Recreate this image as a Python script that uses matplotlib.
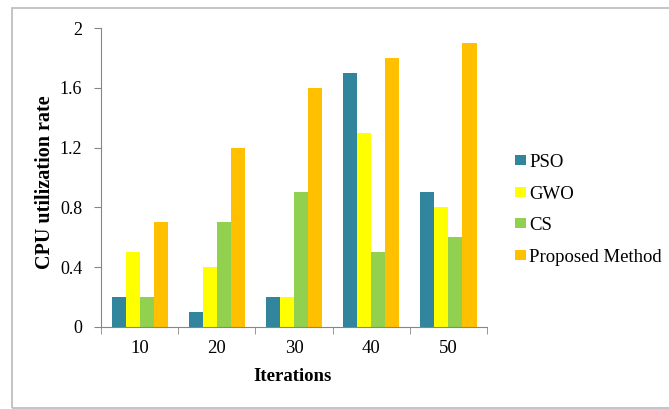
# -*- coding: utf-8 -*-

# %% Imports
import numpy as np
import matplotlib.pyplot as plt
from matplotlib.patches import Rectangle

# %% Data
iterations = ["10", "20", "30", "40", "50"]
pso = [0.2, 0.1, 0.2, 1.7, 0.9]
gwo = [0.5, 0.4, 0.2, 1.3, 0.8]
cs = [0.2, 0.7, 0.9, 0.5, 0.6]
proposed = [0.7, 1.2, 1.6, 1.8, 1.9]
series_names = ["PSO", "GWO", "CS", "Proposed Method"]
y_ticks = [0, 0.4, 0.8, 1.2, 1.6, 2]
y_tick_labels = ["0", "0.4", "0.8", "1.2", "1.6", "2"]

colors = ["#31859C", "#FFFF00", "#92D050", "#FFC000"]
axis_grey = "#868686"

# %% Figure
plt.rcParams["font.family"] = ["Liberation Serif", "DejaVu Serif"]
fig = plt.figure(figsize=(6.69, 4.09), dpi=100)
ax = fig.add_axes([0.151, 0.2005, 0.577, 0.731])

x = np.arange(len(iterations))
width = 0.182
for i, (name, vals) in enumerate(zip(series_names, [pso, gwo, cs, proposed])):
    ax.bar(x + (i - 1.5) * width, vals, width, color=colors[i], label=name)

ax.set_xlim(-0.5, len(iterations) - 0.5)
ax.set_ylim(0, 2)
ax.set_yticks(y_ticks)
ax.set_yticklabels(y_tick_labels)
ax.set_xticks(x)
ax.set_xticklabels(iterations)
# tick marks sit between categories, labels in the middle
ax.set_xticks(np.arange(-0.5, len(iterations)), minor=True)
ax.tick_params(axis="x", which="major", length=0, labelsize=13.5, pad=9.5)
ax.tick_params(axis="x", which="minor", length=5, color=axis_grey)
ax.tick_params(axis="y", length=5, color=axis_grey, labelsize=13, pad=8.5)

for side in ["top", "right"]:
    ax.spines[side].set_visible(False)
for side in ["left", "bottom"]:
    ax.spines[side].set_color(axis_grey)

ax.set_xlabel("Iterations", fontsize=13.5, fontweight="bold")
ax.set_ylabel("CPU utilization rate", fontsize=14.5, fontweight="bold")
ax.xaxis.set_label_coords(0.497, -0.137)
ax.yaxis.set_label_coords(-0.118, 0.485)

fig.legend(loc="center left", bbox_to_anchor=(0.770, 0.487), frameon=False,
           fontsize=13.5, handlelength=0.6, handleheight=0.45, handletextpad=0.15,
           labelspacing=0.78, borderpad=0, borderaxespad=0)

# light frame around the whole chart area
fig.patches.append(Rectangle((0.018, 0.003), 1.0, 0.977, transform=fig.transFigure,
                             fill=False, edgecolor="#BFBFBF", linewidth=1.3))

fig.savefig("out.png", dpi=100)
